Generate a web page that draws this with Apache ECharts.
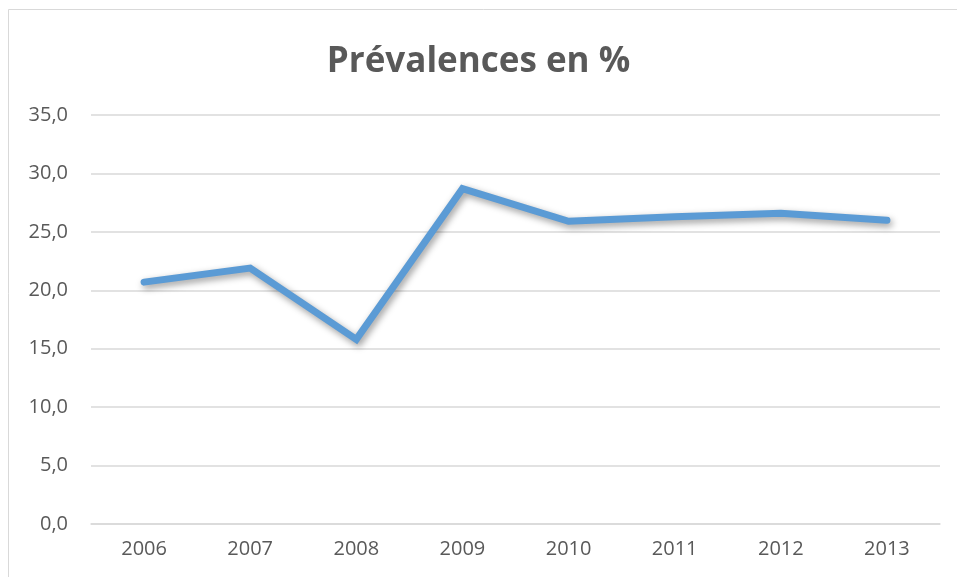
<!DOCTYPE html>
<html>
<head>
<meta charset="utf-8">
<script src="https://cdn.jsdelivr.net/npm/echarts@6/dist/echarts.min.js"></script>
<style>
  html, body { margin: 0; padding: 0; background: #fff; }
  #chart { width: 957px; height: 577px; }
</style>
</head>
<body>
<div id="chart"></div>
<script>
var years = ['2006', '2007', '2008', '2009', '2010', '2011', '2012', '2013'];
var prevalences = [20.7, 21.9, 15.8, 28.7, 25.9, 26.3, 26.6, 26.0];

var chart = echarts.init(document.getElementById('chart'));
var textColor = '#595959';

var option = {
  backgroundColor: '#fff',
  animation: false,
  title: {
    text: 'Prévalences en %',
    left: 'center',
    top: 40,
    textStyle: {
      fontFamily: 'Open Sans',
      fontWeight: 'bold',
      fontSize: 35,
      color: textColor
    }
  },
  graphic: [{
    type: 'rect',
    shape: { x: 8.5, y: 9.5, width: 960, height: 600 },
    style: { fill: 'none', stroke: '#d9d9d9', lineWidth: 1 },
    silent: true
  }],
  grid: { left: 91, right: 17, top: 115, bottom: 53 },
  xAxis: {
    type: 'category',
    data: years,
    axisLine: { lineStyle: { color: '#d9d9d9', width: 1.5 } },
    axisTick: { show: false },
    axisLabel: { color: textColor, fontSize: 20, fontFamily: 'Open Sans', margin: 15 }
  },
  yAxis: {
    type: 'value',
    min: 0,
    max: 35,
    interval: 5,
    axisLine: { show: false },
    axisTick: { show: false },
    splitLine: { lineStyle: { color: '#d9d9d9', width: 1.5 } },
    axisLabel: {
      color: textColor,
      fontSize: 20,
      fontFamily: 'Open Sans',
      margin: 23,
      formatter: function (v) { return v.toFixed(1).replace('.', ','); }
    }
  },
  series: [{
    type: 'line',
    data: prevalences,
    symbol: 'none',
    lineStyle: {
      color: '#5b9bd5',
      width: 7,
      cap: 'round',
      join: 'miter',
      shadowColor: 'rgba(0,0,0,0.4)',
      shadowBlur: 7,
      shadowOffsetX: 2,
      shadowOffsetY: 3
    }
  }]
};

chart.setOption(option);
</script>
</body>
</html>
